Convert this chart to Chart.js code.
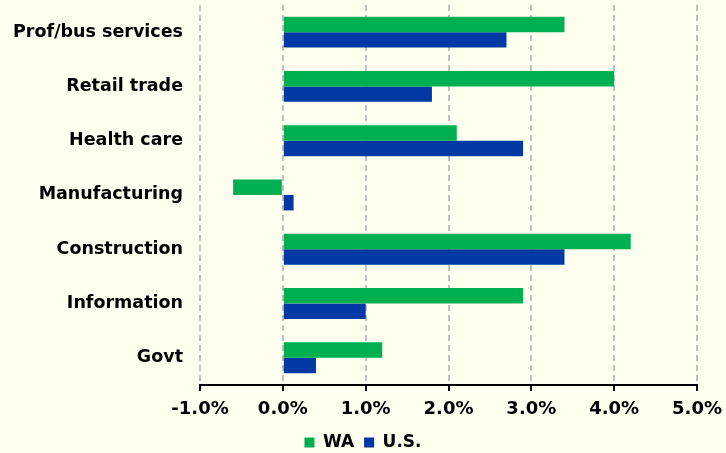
<!DOCTYPE html>
<html>
<head>
<meta charset="utf-8">
<script src="https://cdn.jsdelivr.net/npm/chart.js@4"></script>
<style>
  html, body { margin: 0; padding: 0; background: #FFFFF0; }
  #wrap { width: 726px; height: 453px; }
</style>
</head>
<body>
<div id="wrap"><canvas id="chart" width="726" height="453"></canvas></div>
<script>
// data
const categories = ["Prof/bus services", "Retail trade", "Health care", "Manufacturing", "Construction", "Information", "Govt"];
const waValues = [3.4, 4.0, 2.1, -0.6, 4.2, 2.9, 1.2];
const usValues = [2.7, 1.8, 2.9, 0.13, 3.4, 1.0, 0.4];
const xTicks = [-1, 0, 1, 2, 3, 4, 5];

const fontFamily = "'DejaVu Sans', Verdana, sans-serif";

const ctx = document.getElementById("chart").getContext("2d");

new Chart(ctx, {
  type: "bar",
  data: {
    labels: categories,
    datasets: [
      { label: "WA", data: waValues, backgroundColor: "#00B050" },
      { label: "U.S.", data: usValues, backgroundColor: "#0038A4" }
    ]
  },
  options: {
    indexAxis: "y",
    responsive: false,
    animation: false,
    categoryPercentage: 0.57,
    barPercentage: 1.0,
    layout: { padding: { top: 5, right: 0, left: 0, bottom: -8 } },
    scales: {
      x: {
        min: xTicks[0],
        max: xTicks[xTicks.length - 1],
        afterBuildTicks: (scale) => { scale.ticks = xTicks.map(v => ({ value: v })); },
        afterFit: (scale) => {
          scale.height -= 4.5;
          scale.paddingRight = 29;
        },
        ticks: {
          color: "#000",
          font: { family: fontFamily, size: 18, weight: "bold" },
          padding: 8,
          callback: (v) => v.toFixed(1) + "%"
        },
        grid: {
          color: "#C0C0C0",
          lineWidth: 2,
          drawTicks: true,
          tickLength: 6,
          tickColor: "#000",
          tickWidth: 2,
          tickBorderDash: []
        },
        border: { display: true, color: "#000", width: 2, dash: [6, 4] }
      },
      y: {
        afterFit: (scale) => {
          scale.width = 200;
          scale.paddingTop = 0;
          scale.paddingBottom = 0;
        },
        ticks: {
          color: "#000",
          font: { family: fontFamily, size: 17.5, weight: "bold" },
          padding: 17
        },
        grid: { display: false, drawTicks: false },
        border: { display: false }
      }
    },
    plugins: {
      legend: {
        position: "bottom",
        labels: {
          color: "#000",
          font: { family: fontFamily, size: 17, weight: "bold" },
          boxWidth: 10,
          boxHeight: 10,
          padding: 10
        }
      },
      tooltip: { enabled: false }
    }
  }
});
</script>
</body>
</html>
